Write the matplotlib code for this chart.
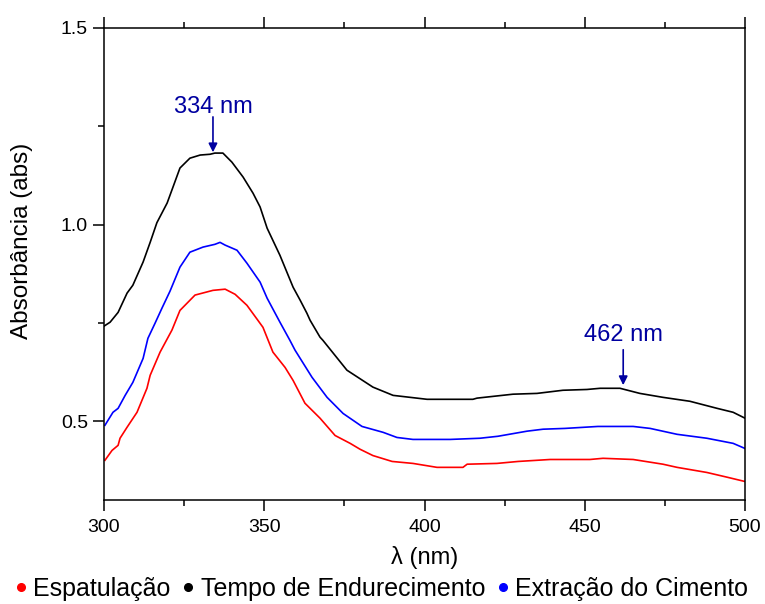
import matplotlib
matplotlib.use("Agg")
import matplotlib.pyplot as plt
from matplotlib.lines import Line2D

plt.rcParams['font.family'] = ['Liberation Sans', 'DejaVu Sans']

# UV-Vis spectra, wavelength (nm) vs absorbance
wl_black = [300.0, 301.9, 304.4, 307.2, 309.0, 312.2, 314.4, 316.5, 319.7, 321.5,
            323.7, 326.8, 330.0, 333.1, 334.6, 337.1, 339.9, 343.4, 346.5, 348.7,
            350.9, 354.9, 359.0, 361.2, 363.3, 364.3, 367.4, 368.3, 375.8, 383.9,
            390.2, 400.8, 408.0, 415.1, 416.4, 427.6, 435.1, 443.2, 450.7, 454.8,
            461.0, 467.2, 474.4, 482.8, 491.3, 496.3, 500.0]
abs_black = [0.742, 0.752, 0.777, 0.826, 0.846, 0.905, 0.955, 1.005, 1.055, 1.095,
             1.144, 1.169, 1.177, 1.179, 1.182, 1.182, 1.159, 1.121, 1.080, 1.045,
             0.991, 0.922, 0.841, 0.808, 0.775, 0.757, 0.714, 0.706, 0.630, 0.587,
             0.566, 0.556, 0.556, 0.556, 0.559, 0.569, 0.571, 0.579, 0.581, 0.584,
             0.584, 0.571, 0.561, 0.551, 0.533, 0.523, 0.508]

wl_blue = [300.3, 302.8, 304.4, 306.6, 309.0, 312.2, 313.7, 315.9, 318.1, 320.6,
           323.7, 326.8, 330.9, 334.6, 336.2, 337.8, 341.5, 344.6, 348.7, 350.9,
           354.9, 358.0, 359.6, 364.9, 369.6, 374.6, 380.5, 387.1, 391.4, 396.4,
           408.0, 417.3, 422.9, 432.0, 437.0, 443.8, 454.1, 465.1, 470.4, 478.8,
           488.1, 496.3, 500.0]
abs_blue = [0.490, 0.523, 0.533, 0.566, 0.599, 0.660, 0.711, 0.749, 0.788, 0.831,
            0.892, 0.930, 0.943, 0.950, 0.955, 0.948, 0.935, 0.902, 0.854, 0.813,
            0.752, 0.706, 0.681, 0.612, 0.561, 0.520, 0.487, 0.472, 0.459, 0.454,
            0.454, 0.457, 0.462, 0.475, 0.480, 0.482, 0.487, 0.487, 0.482, 0.467,
            0.457, 0.444, 0.431]

wl_red = [300.3, 302.5, 304.4, 305.0, 307.2, 310.3, 313.4, 314.4, 317.5, 321.2,
          323.7, 328.4, 334.0, 337.8, 340.9, 344.6, 348.0, 349.6, 352.7, 356.5,
          359.0, 362.7, 367.4, 372.1, 376.8, 379.9, 383.9, 389.9, 396.4, 403.9,
          412.0, 413.3, 422.6, 429.2, 439.2, 451.6, 455.7, 465.1, 474.4, 478.8,
          488.1, 494.4, 500.0]
abs_red = [0.401, 0.426, 0.439, 0.457, 0.485, 0.523, 0.584, 0.617, 0.676, 0.732,
           0.782, 0.821, 0.833, 0.836, 0.823, 0.795, 0.757, 0.739, 0.676, 0.637,
           0.604, 0.546, 0.508, 0.464, 0.444, 0.429, 0.413, 0.398, 0.393, 0.383,
           0.383, 0.391, 0.393, 0.398, 0.403, 0.403, 0.406, 0.403, 0.391, 0.383,
           0.370, 0.358, 0.347]

labels = ['Espatulação', 'Tempo de Endurecimento', 'Extração do Cimento']
colors = ['red', 'black', 'blue']

peaks = [334, 462]
peak_abs = [1.184, 0.592]
peak_text_y = [1.30, 0.72]

fig = plt.figure(figsize=(7.65, 6.04), dpi=100)
ax = fig.add_axes([104/765, 1 - 500/604, 641/765, 472/604])

ax.plot(wl_black, abs_black, color='black', lw=1.2)
ax.plot(wl_blue, abs_blue, color='blue', lw=1.2)
ax.plot(wl_red, abs_red, color='red', lw=1.2)

ax.set_xlim(300, 500)
ax.set_ylim(0.3, 1.5)
ax.set_xticks([300, 350, 400, 450, 500])
ax.set_xticks([325, 375, 425, 475], minor=True)
ax.set_yticks([0.5, 1.0, 1.5])
ax.set_yticks([0.75, 1.25], minor=True)
ax.tick_params(which='both', direction='out', width=1.1, labelsize=14, top=True, right=False)
ax.tick_params(which='major', length=8)
ax.tick_params(which='minor', length=4)
ax.tick_params(axis='x', pad=6)
for sp in ax.spines.values():
    sp.set_linewidth(1.1)

ax.set_xlabel('λ (nm)', fontsize=17, labelpad=7)
ax.set_ylabel('Absorbância (abs)', fontsize=17.5)
ax.yaxis.set_label_coords(-0.11, 0.55)

ann_color = '#0000A0'
for x, y, ty in zip(peaks, peak_abs, peak_text_y):
    ax.annotate('', xy=(x, y), xytext=(x, y + 0.09),
                arrowprops=dict(arrowstyle='-|>', color=ann_color, lw=1.2,
                                mutation_scale=13, shrinkA=0, shrinkB=0))
    ax.text(x, ty, f'{x} nm', color=ann_color, fontsize=17, ha='center', va='center')

handles = [Line2D([], [], ls='none', marker='o', ms=5.5, color=c) for c in colors]
fig.legend(handles, labels, loc='center', bbox_to_anchor=(382/765, 1 - 589/604),
           ncol=3, frameon=False, fontsize=18, handlelength=0.4, handletextpad=0.3,
           columnspacing=0.5, borderaxespad=0)

fig.savefig('out.png', dpi=100)
